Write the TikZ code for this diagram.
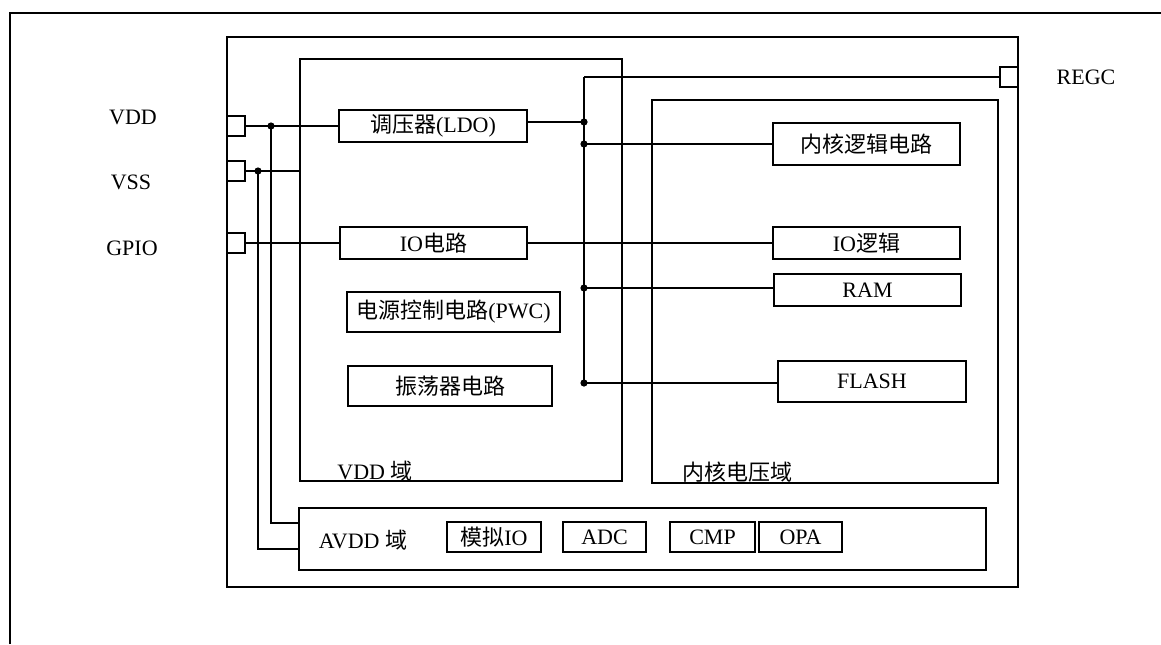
\documentclass[tikz,border=0pt]{standalone}
\usepackage{fontspec}
\setmainfont{Liberation Serif}
\newfontfamily\cjk{Noto Sans CJK SC}
\begin{document}
\begin{tikzpicture}[x=0.5pt,y=-0.5pt,
  every node/.style={font=\fontsize{11}{13}\selectfont},
  wire/.style={line width=0.7pt},
  frame/.style={draw,line width=0.7pt,inner sep=0pt},
  box/.style={draw,line width=0.7pt,inner sep=0pt,minimum height=16pt},
  pad/.style={draw,line width=0.7pt,inner sep=0pt,minimum width=9pt,minimum height=10pt},
  lbl/.style={inner sep=0pt},
  dot/.style={circle,fill,inner sep=0pt,minimum size=3.6pt}]
\useasboundingbox (0,0) rectangle (1161,644);
% outer frame
\draw[line width=1pt] (10,644) -- (10,13) -- (1161,13);
% domains
\node[frame,minimum width=395.5pt,minimum height=275pt] (chip) at (622.5,312) {};
\node[frame,minimum width=161pt,minimum height=211pt] (vdddom) at (461,270) {};
\node[frame,minimum width=173pt,minimum height=191.5pt] (coredom) at (825,291.5) {};
\node[frame,minimum width=343.5pt,minimum height=31pt] (avdd) at (642.5,539) {};
% pads
\node[pad] (vddpad) at (236,126) {};
\node[pad] (vsspad) at (236,171) {};
\node[pad] (gpiopad) at (236,243) {};
\node[pad] (regcpad) at (1009,77) {};
% pin labels
\node[lbl] (tvdd) at (133,117) {VDD};
\node[lbl] (tvss) at (131,182) {VSS};
\node[lbl] (tgpio) at (132,248) {GPIO};
\node[lbl] (tregc) at (1086,77) {REGC};
% VDD domain boxes
\node[box,minimum width=94pt] (ldo) at (433,126) {{\cjk 调压器}(LDO)};
\node[box,minimum width=93.5pt] (io) at (433.5,243) {IO{\cjk 电路}};
\node[box,minimum width=106.5pt,minimum height=20pt] (pwc) at (453.5,312) {{\cjk 电源控制电路}(PWC)};
\node[box,minimum width=102pt,minimum height=20pt] (osc) at (450,386) {\cjk 振荡器电路};
\node[lbl] (tvdddom) at (375,471) {VDD {\cjk 域}};
% core domain boxes
\node[box,minimum width=93.5pt,minimum height=21pt] (core) at (866.5,144) {\cjk 内核逻辑电路};
\node[box,minimum width=93.5pt] (iol) at (866.5,243) {IO{\cjk 逻辑}};
\node[box,minimum width=93.5pt] (ram) at (867.5,290) {RAM};
\node[box,minimum width=94pt,minimum height=20.5pt] (flash) at (872,381.5) {FLASH};
\node[lbl] (tcoredom) at (737,472) {\cjk 内核电压域};
% AVDD domain
\node[lbl] (tavdd) at (363,540) {AVDD {\cjk 域}};
\node[box,minimum width=47pt,minimum height=15pt] (aio) at (494,537) {{\cjk 模拟}IO};
\node[box,minimum width=41.5pt,minimum height=15pt] (adc) at (604.5,537) {ADC};
\node[box,minimum width=42.5pt,minimum height=15pt] (cmp) at (712.5,537) {CMP};
\node[box,minimum width=41.5pt,minimum height=15pt] (opa) at (800.5,537) {OPA};
% junction coordinates
\coordinate (j1) at (271,126);
\coordinate (j2) at (258,171);
\coordinate (a1) at (299,523);
\coordinate (a2) at (299,549);
\coordinate (vsse) at (300,171);
\coordinate (btop) at (584,77);
\coordinate (bldo) at (584,122);
\coordinate (bcore) at (584,144);
\coordinate (bram) at (584,288);
\coordinate (bflash) at (584,383);
\coordinate (ldoout) at (527,122);
% wires
\draw[wire] (vddpad.east) -- (ldo.west);
\draw[wire] (vsspad.east) -- (vsse);
\draw[wire] (j1) |- (a1);
\draw[wire] (j2) |- (a2);
\draw[wire] (gpiopad.east) -- (io.west);
\draw[wire] (io.east) -- (iol.west);
\draw[wire] (ldoout) -- (bldo);
\draw[wire] (btop) -- (bflash);
\draw[wire] (btop) -- (regcpad.west);
\draw[wire] (bcore) -- (core.west);
\draw[wire] (bram) -- (ram.west |- bram);
\draw[wire] (bflash) -- (flash.west |- bflash);
% dots
\foreach \p in {j1,j2,bldo,bcore,bram,bflash} \node[dot] at (\p) {};
\end{tikzpicture}
\end{document}
